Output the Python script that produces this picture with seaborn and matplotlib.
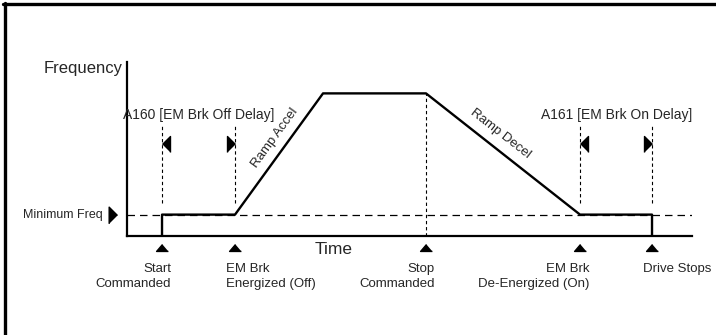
import matplotlib
matplotlib.use('Agg')
import matplotlib.pyplot as plt
from matplotlib.lines import Line2D
import seaborn as sns

# Event times along the time axis (arbitrary units)
t_start = 3.5
t_brake_off = 10.8
t_at_speed = 19.6
t_stop = 29.9
t_brake_on = 45.3
t_drive_stops = 52.5
t_end = 56.5

# Frequency levels (percent of max)
min_freq = 15
max_freq = 100
freq_top = 122

# Output frequency profile
profile_time = [t_start, t_start, t_brake_off, t_at_speed, t_stop, t_brake_on, t_drive_stops, t_drive_stops]
profile_freq = [0, min_freq, min_freq, max_freq, max_freq, min_freq, min_freq, 0]

# Events marked under the time axis
event_times = [t_start, t_brake_off, t_stop, t_brake_on, t_drive_stops]
event_labels = ["Start\nCommanded", "EM Brk\nEnergized (Off)", "Stop\nCommanded",
                "EM Brk\nDe-Energized (On)", "Drive Stops"]
event_side = [-1, 1, -1, -1, 1]   # -1: right aligned text, 1: left aligned text

# Delay windows
delay_labels = ["A160 [EM Brk Off Delay]", "A161 [EM Brk On Delay]"]
delay_windows = [(t_start, t_brake_off), (t_brake_on, t_drive_stops)]

sns.set_style('white')
plt.rcParams['font.family'] = ['Liberation Sans Narrow', 'Liberation Sans', 'DejaVu Sans']

fig = plt.figure(figsize=(7.16, 3.35), dpi=100)
ax = fig.add_axes([0.1774, 0.2955, 0.7891, 0.5194])

# frame lines of the figure (top and left only)
fig.add_artist(Line2D([0.004, 1.0], [0.9866, 0.9866], transform=fig.transFigure, color='black', lw=2.4))
fig.add_artist(Line2D([0.0063, 0.0063], [0.0, 0.99], transform=fig.transFigure, color='black', lw=2.4))

sns.lineplot(x=profile_time, y=profile_freq, estimator=None, sort=False,
             color='black', lw=1.7, ax=ax)

ax.axhline(min_freq, color='black', lw=0.9, ls=(0, (6, 4)), zorder=1)
ax.vlines(t_stop, 0, max_freq, color='black', lw=0.8, ls=(0, (3, 2.5)))

ax.set_xlim(0, t_end)
ax.set_ylim(0, freq_top)
ax.set_xticks([])
ax.set_yticks([])
sns.despine(ax=ax)
for s in ['left', 'bottom']:
    ax.spines[s].set_linewidth(1.6)
    ax.spines[s].set_color('black')

# tip-anchored triangle markers
tri_up = [(0, 0), (-0.85, -1), (0.85, -1)]
tri_left = [(0, 0), (1, 1), (1, -1)]
tri_right = [(0, 0), (-1, 1), (-1, -1)]

# delay windows
delay_y = 64.3
for (a, b), lab in zip(delay_windows, delay_labels):
    ax.vlines([a, b], 23, 77.6, color='black', lw=0.8, ls=(0, (3, 2.5)))
    ax.plot([a], [delay_y], marker=tri_left, ms=11.5, color='black', ls='none')
    ax.plot([b], [delay_y], marker=tri_right, ms=11.5, color='black', ls='none')
    ax.text((a + b) / 2 + 0.05, 84.6, lab, ha='center', va='center', fontsize=10)

# ramp labels
ax.text(14.8, 68.5, "Ramp Accel", rotation=54, rotation_mode='anchor',
        ha='center', va='center', fontsize=9.5)
ax.text(37.3, 72, "Ramp Decel", rotation=-38, rotation_mode='anchor',
        ha='center', va='center', fontsize=9.5)

# axis labels
ax.text(-0.4, 117.5, "Frequency", ha='right', va='center', fontsize=12, clip_on=False)
ax.text(20.7, -9.8, "Time", ha='center', va='center', fontsize=12.5, clip_on=False)

# minimum frequency label
ax.plot([-1.0], [min_freq], marker=tri_right, ms=12, color='black', ls='none', clip_on=False)
ax.text(-2.4, min_freq, "Minimum Freq", ha='right', va='center', fontsize=9, clip_on=False)

# events below the time axis
for t, lab, side in zip(event_times, event_labels, event_side):
    ax.plot([t], [-5.5], marker=tri_up, ms=10, color='black', ls='none', clip_on=False)
    ax.annotate(lab, xy=(t, -18.8), xytext=(-6.5 * side, 0), textcoords='offset points',
                ha='left' if side > 0 else 'right', va='top', fontsize=9.5,
                linespacing=1.3, annotation_clip=False)

fig.savefig('out.png', dpi=100, facecolor='white')
